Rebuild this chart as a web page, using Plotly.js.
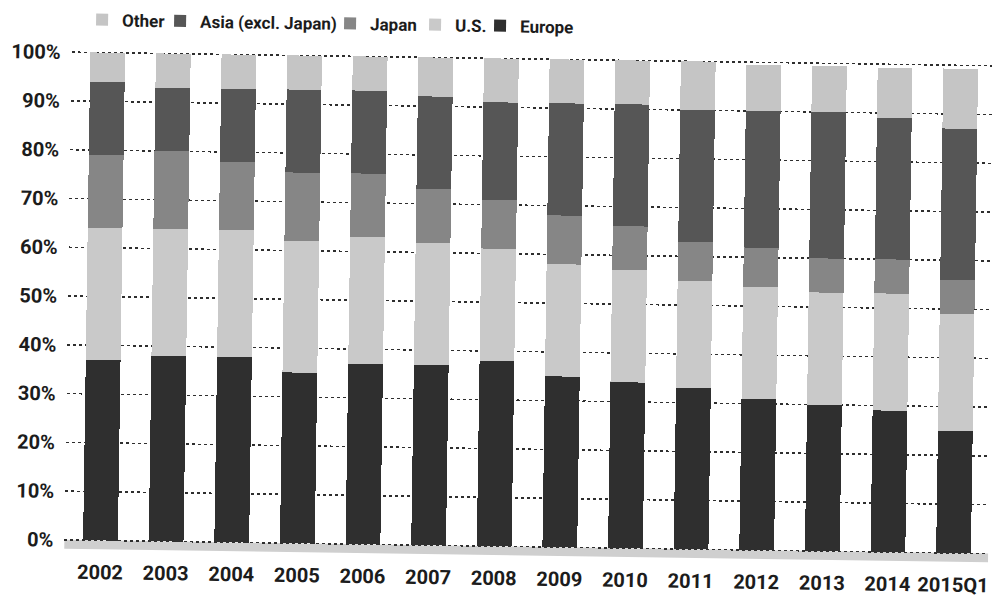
<!DOCTYPE html>
<html>
<head>
<meta charset="utf-8">
<script src="https://cdn.plot.ly/plotly-3.0.1.min.js"></script>
<style>
  html, body { margin: 0; padding: 0; background: #ffffff; overflow: hidden; }
  #chart { width: 992px; height: 600px; transform: rotate(0.85deg); transform-origin: 50% 50%; }
</style>
</head>
<body>
<div id="chart"></div>
<script>
// Regional share of the total, per year (percent of 100)
const years = ['2002', '2003', '2004', '2005', '2006', '2007', '2008',
               '2009', '2010', '2011', '2012', '2013', '2014', '2015Q1'];
const europe = [37, 38, 38, 35, 37, 37, 38, 35, 34, 33, 31, 30, 29, 25];
const us     = [27, 26, 26, 27, 26, 25, 23, 23, 23, 22, 23, 23, 24, 24];
const japan  = [15, 16, 14, 14, 13, 11, 10, 10,  9,  8,  8,  7,  7,  7];
const asia   = [15, 13, 15, 17, 17, 19, 20, 23, 25, 27, 28, 30, 29, 31];
const other  = [ 6,  7,  7,  7,  7,  8,  9,  9,  9, 10, 9.5, 9.5, 10.3, 12.3];
const yTicks = [0, 10, 20, 30, 40, 50, 60, 70, 80, 90, 100];
const yTickLabels = ['0%', '10%', '20%', '30%', '40%', '50%', '60%', '70%', '80%', '90%', '100%'];

const FONT = 'Roboto, "Liberation Sans", Arial, sans-serif';
const INK = '#1c1c1c';

// bottom-to-top stacking order, each series in its own legend box
const series = [
  { name: 'Europe',             y: europe, color: '#2f2f2f', legend: 'legend5' },
  { name: 'U.S.',               y: us,     color: '#c9c9c9', legend: 'legend4' },
  { name: 'Japan',              y: japan,  color: '#868686', legend: 'legend3' },
  { name: 'Asia (excl. Japan)', y: asia,   color: '#565656', legend: 'legend2' },
  { name: 'Other',              y: other,  color: '#c5c5c5', legend: 'legend'  }
];

const traces = series.map(s => ({
  type: 'bar',
  name: s.name,
  x: years,
  y: s.y,
  legend: s.legend,
  marker: { color: s.color, line: { width: 0 } },
  hoverinfo: 'x+y+name'
}));

// legend boxes laid out in one row across the top
function legendAt(px) {
  return {
    orientation: 'h',
    xref: 'container', yref: 'container',
    x: px / 992, y: 1 - 26 / 600,
    xanchor: 'left', yanchor: 'middle',
    bgcolor: 'rgba(0,0,0,0)', borderwidth: 0,
    font: { family: FONT, size: 17, color: INK, weight: 'bold' }
  };
}

const layout = {
  width: 992,
  height: 600,
  margin: { l: 68, r: 0, t: 57, b: 44 },
  paper_bgcolor: '#ffffff',
  plot_bgcolor: '#ffffff',
  barmode: 'stack',
  bargap: 0.47,
  showlegend: true,
  legend:  legendAt(78),
  legend2: legendAt(156),
  legend3: legendAt(326),
  legend4: legendAt(411),
  legend5: legendAt(476),
  xaxis: {
    type: 'category',
    range: [-0.55, 13.53],
    showgrid: false,
    zeroline: false,
    showline: false,
    ticks: '',
    tickangle: 0,
    ticklabelstandoff: 8,
    tickfont: { family: FONT, size: 20, color: INK, weight: 'bold' }
  },
  yaxis: {
    range: [-2, 100.3],
    tickmode: 'array',
    tickvals: yTicks,
    ticktext: yTickLabels,
    showgrid: true,
    gridcolor: '#2e2e2e',
    gridwidth: 1.5,
    griddash: 'dot',
    zeroline: false,
    showline: false,
    ticks: '',
    ticklabelstandoff: 10,
    tickfont: { family: FONT, size: 20, color: INK, weight: 'bold' }
  },
  shapes: [{
    // grey floor under the columns
    type: 'rect', layer: 'below',
    xref: 'paper', x0: 0, x1: 1,
    yref: 'y', y0: -1.8, y1: 0,
    fillcolor: '#cfcfcf', line: { width: 0 }
  }]
};

Plotly.newPlot('chart', traces, layout, { staticPlot: true, displayModeBar: false });
</script>
</body>
</html>
